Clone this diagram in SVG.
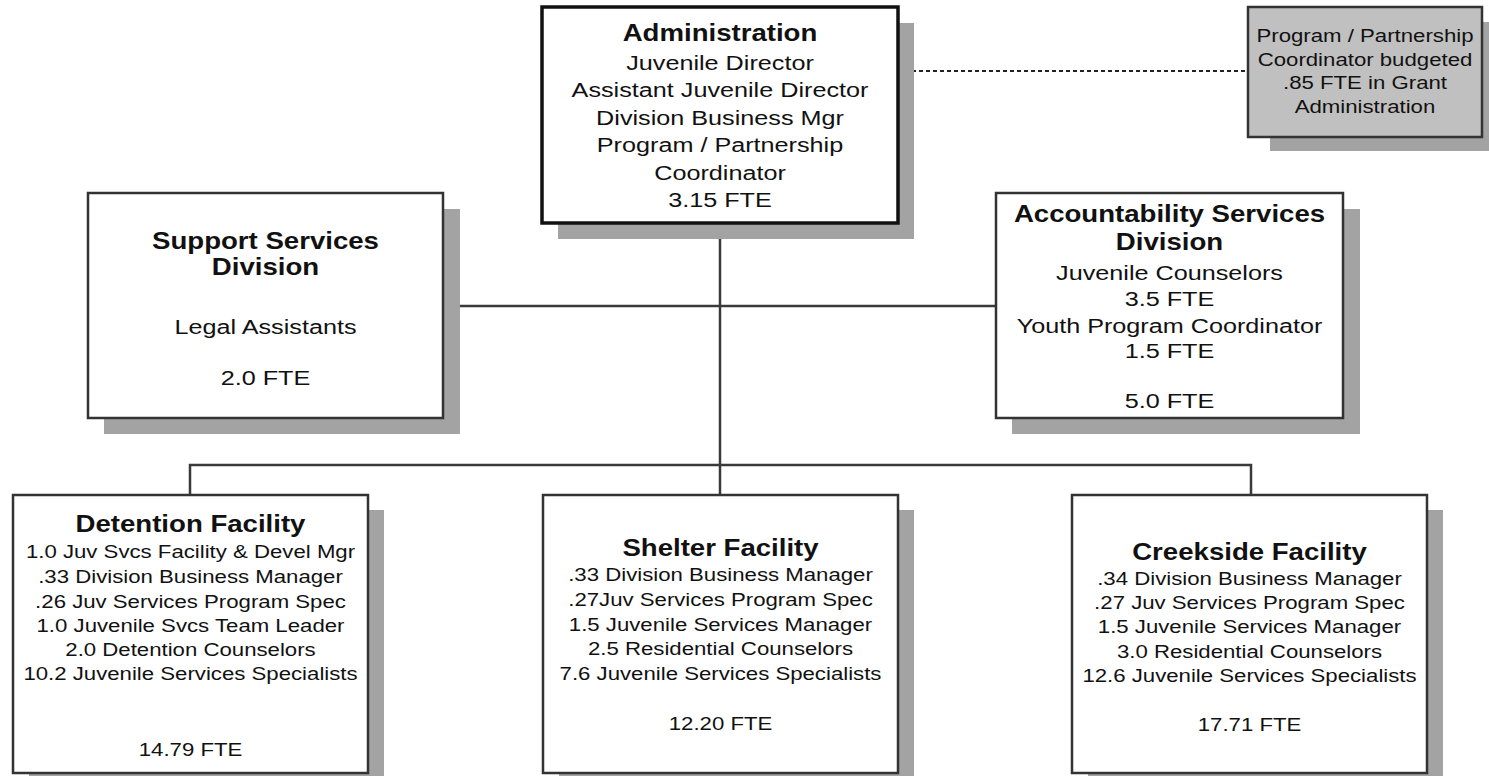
<svg xmlns="http://www.w3.org/2000/svg" width="1489" height="776" viewBox="0 0 1489 776">
<style>
.bg{fill:#ffffff}
.sh{fill:#a3a3a3}
.box{fill:#ffffff;stroke:#333333;stroke-width:2.5}
.main{stroke-width:3.5;stroke:#111111}
.note{fill:#c0c0c0;stroke:#333333;stroke-width:2.5}
.ln{fill:none;stroke:#3a3a3a;stroke-width:2.5}
.dash{fill:none;stroke:#222222;stroke-width:2;stroke-dasharray:4 3}
text{font-family:"Liberation Sans",Arial,sans-serif;fill:#111111;text-anchor:middle}
.ti{font-weight:bold;font-size:23px}
.tx{font-size:21px}
.sm{font-size:18.5px}
</style>
<rect class="bg" x="0" y="0" width="1489" height="776"/>
<g id="connectors">
<path class="dash" d="M898 71H1248"/>
<path class="ln" d="M720 223V465"/>
<path class="ln" d="M443 306H996"/>
<path class="ln" d="M190 495V465H1251V495"/>
<path class="ln" d="M720 465V495"/>
</g>
<g id="admin">
<rect class="sh" x="558" y="23" width="356" height="216"/>
<rect class="box main" x="542" y="7" width="356" height="216"/>
<g transform="translate(720,0) scale(1.2,1)">
<text class="ti" x="0" y="41">Administration</text>
<text class="tx" x="0" y="70">Juvenile Director</text>
<text class="tx" x="0" y="97.5">Assistant Juvenile Director</text>
<text class="tx" x="0" y="125">Division Business Mgr</text>
<text class="tx" x="0" y="152.5">Program / Partnership</text>
<text class="tx" x="0" y="180">Coordinator</text>
<text class="tx" x="0" y="207">3.15 FTE</text>
</g>
</g>
<g id="grant-note">
<rect class="sh" x="1270" y="22" width="230" height="129"/>
<rect class="note" x="1248" y="7" width="234" height="130"/>
<g transform="translate(1365,0) scale(1.2,1)">
<text class="sm" x="0" y="42.5">Program / Partnership</text>
<text class="sm" x="0" y="66">Coordinator budgeted</text>
<text class="sm" x="0" y="89.3">.85 FTE in Grant</text>
<text class="sm" x="0" y="112.7">Administration</text>
</g>
</g>
<g id="support">
<rect class="sh" x="104" y="209" width="356" height="225"/>
<rect class="box" x="88" y="193" width="355" height="225"/>
<g transform="translate(265.5,0) scale(1.2,1)">
<text class="ti" x="0" y="249">Support Services</text>
<text class="ti" x="0" y="275">Division</text>
<text class="tx" x="0" y="334">Legal Assistants</text>
<text class="tx" x="0" y="385">2.0 FTE</text>
</g>
</g>
<g id="accountability">
<rect class="sh" x="1012" y="209" width="348" height="225"/>
<rect class="box" x="996" y="193" width="347" height="225"/>
<g transform="translate(1169.5,0) scale(1.2,1)">
<text class="ti" x="0" y="222">Accountability Services</text>
<text class="ti" x="0" y="250">Division</text>
<text class="tx" x="0" y="280">Juvenile Counselors</text>
<text class="tx" x="0" y="306.5">3.5 FTE</text>
<text class="tx" x="0" y="333">Youth Program Coordinator</text>
<text class="tx" x="0" y="358.5">1.5 FTE</text>
<text class="tx" x="0" y="408">5.0 FTE</text>
</g>
</g>
<g id="detention">
<rect class="sh" x="29" y="510" width="355" height="280"/>
<rect class="box" x="13" y="495" width="355" height="278"/>
<g transform="translate(190.5,0) scale(1.2,1)">
<text class="ti" x="0" y="532">Detention Facility</text>
<text class="sm" x="0" y="558">1.0 Juv Svcs Facility &amp; Devel Mgr</text>
<text class="sm" x="0" y="583">.33 Division Business Manager</text>
<text class="sm" x="0" y="608">.26 Juv Services Program Spec</text>
<text class="sm" x="0" y="632.5">1.0 Juvenile Svcs Team Leader</text>
<text class="sm" x="0" y="656.5">2.0 Detention Counselors</text>
<text class="sm" x="0" y="680.5">10.2 Juvenile Services Specialists</text>
<text class="sm" x="0" y="756.5">14.79 FTE</text>
</g>
</g>
<g id="shelter">
<rect class="sh" x="559" y="510" width="355" height="280"/>
<rect class="box" x="543" y="495" width="355" height="278"/>
<g transform="translate(720.5,0) scale(1.2,1)">
<text class="ti" x="0" y="556.5">Shelter Facility</text>
<text class="sm" x="0" y="581.5">.33 Division Business Manager</text>
<text class="sm" x="0" y="606.5">.27Juv Services Program Spec</text>
<text class="sm" x="0" y="631.5">1.5 Juvenile Services Manager</text>
<text class="sm" x="0" y="655.5">2.5 Residential Counselors</text>
<text class="sm" x="0" y="680">7.6 Juvenile Services Specialists</text>
<text class="sm" x="0" y="730">12.20 FTE</text>
</g>
</g>
<g id="creekside">
<rect class="sh" x="1088" y="510" width="355" height="280"/>
<rect class="box" x="1072" y="495" width="355" height="278"/>
<g transform="translate(1249.5,0) scale(1.2,1)">
<text class="ti" x="0" y="560">Creekside Facility</text>
<text class="sm" x="0" y="585">.34 Division Business Manager</text>
<text class="sm" x="0" y="609">.27 Juv Services Program Spec</text>
<text class="sm" x="0" y="633.5">1.5 Juvenile Services Manager</text>
<text class="sm" x="0" y="658">3.0 Residential Counselors</text>
<text class="sm" x="0" y="682">12.6 Juvenile Services Specialists</text>
<text class="sm" x="0" y="731.5">17.71 FTE</text>
</g>
</g>
</svg>
